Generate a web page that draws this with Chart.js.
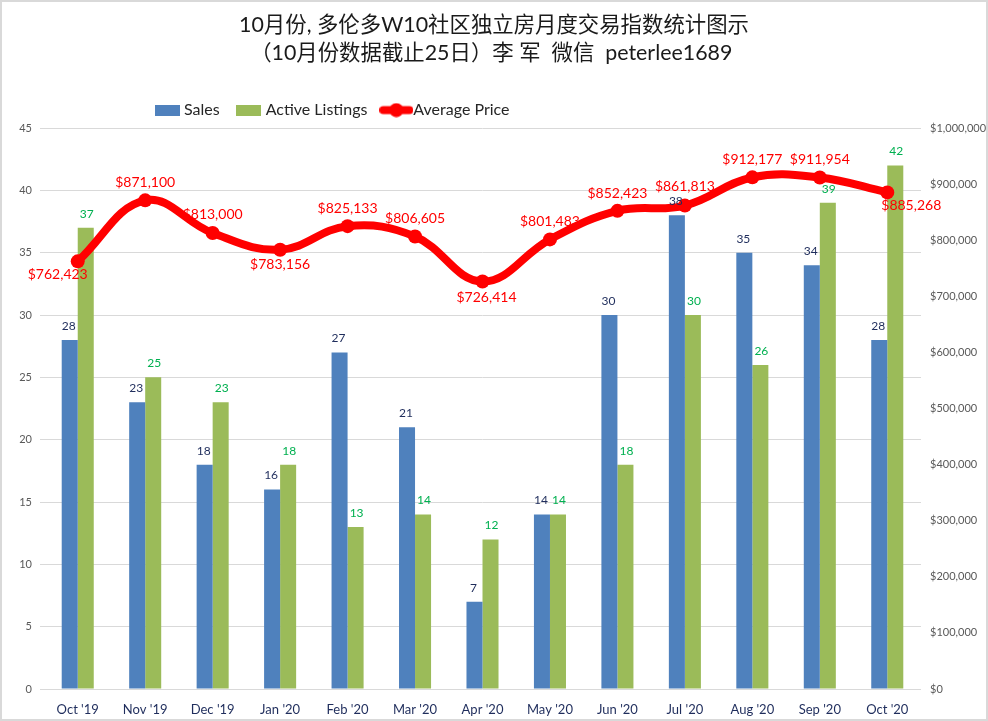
<!DOCTYPE html>
<html>
<head>
<meta charset="utf-8">
<script src="https://cdn.jsdelivr.net/npm/chart.js@4"></script>
<style>
  body{margin:0;background:#fff}
  #wrap{position:relative;width:988px;height:721px;overflow:hidden}
  #wrap:after{content:"";position:absolute;left:0;top:0;right:0;bottom:0;border:2px solid #d9d9d9;pointer-events:none}
  canvas{display:block}
</style>
</head>
<body>
<div id="wrap"><canvas id="c" width="988" height="721"></canvas></div>
<script>
/* datos */
const months = ["Oct '19","Nov '19","Dec '19","Jan '20","Feb '20","Mar '20","Apr '20","May '20","Jun '20","Jul '20","Aug '20","Sep '20","Oct '20"];
const sales = [28,23,18,16,27,21,7,14,30,38,35,34,28];
const activeListings = [37,25,23,18,13,14,12,14,18,30,26,39,42];
const avgPrice = [762423,871100,813000,783156,825133,806605,726414,801483,852423,861813,912177,911954,885268];
const titleLines = ["10月份, 多伦多W10社区独立房月度交易指数统计图示","（10月份数据截止25日）李 军  微信  peterlee1689 "];

/* desplazamiento de las etiquetas de precio respecto al punto */
const priceLabelDx = [-20,0,0,0,0,0,4,0,0,0,0,0,24];
const priceLabelDy = [13,-18,-18,15,-18,-18,16,-18,-17,-19,-18,-18,13];

const FONT = 'Lato, "Noto Sans CJK SC", sans-serif';
const fmtMoney = v => '$' + v.toLocaleString('en-US');

/* iconos de la leyenda */
function icon(w,h,draw){
  const cv = document.createElement('canvas');
  cv.width = w; cv.height = h;
  draw(cv.getContext('2d'));
  return cv;
}
const legendIcons = [
  icon(25,11,g=>{g.fillStyle='#4f81bd';g.fillRect(0,0,25,11);}),
  icon(25,11,g=>{g.fillStyle='#9bbb59';g.fillRect(0,0,25,11);}),
  icon(34,15,g=>{
    g.strokeStyle='#ff0000';g.lineWidth=8;g.lineCap='round';
    g.beginPath();g.moveTo(4,7.5);g.lineTo(30,7.5);g.stroke();
    g.fillStyle='#ff0000';g.beginPath();g.arc(17,7.5,7,0,Math.PI*2);g.fill();
  })
];

/* etiquetas de datos */
const dataLabels = {
  id:'dataLabels',
  afterDatasetsDraw(chart){
    const g = chart.ctx;
    g.save();
    g.textAlign='center'; g.textBaseline='middle';
    g.font='12px '+FONT;
    g.fillStyle='#1f2d5c';
    chart.getDatasetMeta(0).data.forEach((el,i)=>g.fillText(sales[i],el.x-1,el.y-14));
    g.fillStyle='#00b050';
    chart.getDatasetMeta(1).data.forEach((el,i)=>g.fillText(activeListings[i],el.x+1,el.y-14));
    g.font='14px '+FONT;
    g.fillStyle='#ff0000';
    chart.getDatasetMeta(2).data.forEach((el,i)=>g.fillText(fmtMoney(avgPrice[i]),el.x+priceLabelDx[i],el.y+priceLabelDy[i]));
    g.restore();
  }
};
/* la leyenda no va centrada en el original */
const legendShift = {
  id:'legendShift',
  beforeDraw(chart){ chart.legend.left = 138; }
};

new Chart('c',{
  type:'bar',
  data:{
    labels:months,
    datasets:[
      {label:'Sales',data:sales,backgroundColor:'#4f81bd',yAxisID:'y',order:2,categoryPercentage:0.475,barPercentage:1},
      {label:'Active Listings',data:activeListings,backgroundColor:'#9bbb59',yAxisID:'y',order:2,categoryPercentage:0.475,barPercentage:1},
      {type:'line',label:'Average Price',data:avgPrice,borderColor:'#ff0000',backgroundColor:'#ff0000',borderWidth:8,tension:0.4,pointRadius:7,pointBackgroundColor:'#ff0000',pointBorderWidth:0,yAxisID:'y1',order:1}
    ]
  },
  options:{
    responsive:false,
    animation:false,
    layout:{padding:0},
    plugins:{
      tooltip:{enabled:false},
      title:{display:true,text:titleLines,color:'#1a1a1a',font:{family:FONT,size:21.4,weight:'normal',lineHeight:1.31},padding:{top:11,bottom:15}},
      legend:{
        position:'top',align:'start',
        labels:{
          usePointStyle:true,pointStyleWidth:18,padding:20,color:'#262626',
          font:{family:FONT,size:16},
          sort:(a,b)=>a.datasetIndex-b.datasetIndex,
          generateLabels:chart=>Chart.defaults.plugins.legend.labels.generateLabels(chart).map(it=>({...it,pointStyle:legendIcons[it.datasetIndex]}))
        }
      }
    },
    scales:{
      x:{
        grid:{display:false},
        border:{display:false},
        ticks:{color:'#1f2d5c',font:{family:FONT,size:13},padding:5,maxRotation:0},
        afterFit(s){ s.height=32; }
      },
      y:{
        position:'left',min:0,max:45,
        grid:{color:'#d9d9d9',lineWidth:1,tickLength:4},
        border:{display:false},
        ticks:{stepSize:5,color:'#595959',font:{family:FONT,size:11},padding:8},
        afterFit(s){ s.width=44; }
      },
      y1:{
        position:'right',min:0,max:1000000,
        grid:{display:false},
        border:{display:false},
        ticks:{stepSize:100000,color:'#595959',font:{family:FONT,size:11},padding:1,callback:v=>fmtMoney(v)},
        afterFit(s){ s.width=67; }
      }
    }
  },
  plugins:[dataLabels,legendShift]
});
</script>
</body>
</html>
